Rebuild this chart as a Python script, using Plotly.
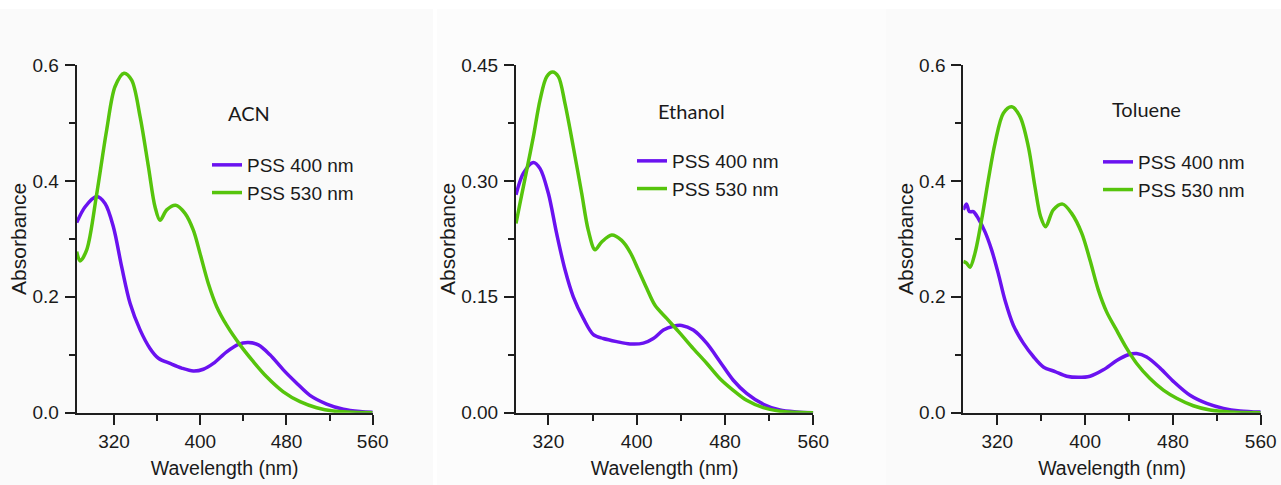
import plotly.graph_objects as go

# ---------------- data ----------------
solvents = ["ACN", "Ethanol", "Toluene"]
series_names = ["PSS 400 nm", "PSS 530 nm"]

acn_400_wl = [285.4, 293.1, 304.0, 311.7, 319.4, 327.1, 334.9, 344.2, 353.4, 361.2, 372.0, 382.8, 393.6,
              402.9, 412.2, 424.5, 435.4, 444.6, 453.9, 464.7, 477.1, 489.5, 501.8, 517.3, 532.8, 548.2, 560.0]
acn_400_abs = [0.328, 0.355, 0.373, 0.361, 0.321, 0.252, 0.189, 0.143, 0.111, 0.094, 0.085, 0.077, 0.072,
               0.075, 0.085, 0.105, 0.118, 0.121, 0.117, 0.100, 0.074, 0.051, 0.030, 0.015, 0.006, 0.002, 0.0006]
acn_530_wl = [285.4, 288.5, 294.7, 304.0, 313.2, 321.0, 329.3, 336.4, 344.2, 351.9, 358.1, 362.7, 368.9,
              377.2, 385.9, 393.6, 399.8, 407.5, 415.3, 424.5, 436.9, 449.3, 461.6, 477.1, 492.6, 508.0,
              523.5, 560.0]
acn_530_abs = [0.278, 0.262, 0.281, 0.378, 0.488, 0.563, 0.586, 0.574, 0.511, 0.425, 0.355, 0.332, 0.350,
               0.358, 0.344, 0.315, 0.275, 0.223, 0.183, 0.151, 0.117, 0.088, 0.062, 0.036, 0.019, 0.0086,
               0.003, 0.0]

eth_400_wl = [290.7, 297.4, 306.4, 312.5, 320.0, 327.5, 335.1, 342.6, 351.7, 360.8, 369.8, 381.9, 394.0,
              406.0, 415.1, 424.2, 433.2, 440.8, 451.3, 463.4, 475.5, 487.5, 499.6, 514.7, 529.8, 544.9, 560.0]
eth_400_abs = [0.282, 0.310, 0.324, 0.316, 0.284, 0.232, 0.185, 0.150, 0.122, 0.101, 0.096, 0.092, 0.089,
               0.090, 0.096, 0.107, 0.112, 0.113, 0.107, 0.090, 0.066, 0.042, 0.025, 0.011, 0.0035, 0.001, 0.0]
eth_530_wl = [290.7, 294.3, 300.4, 306.4, 312.5, 318.5, 323.9, 329.1, 335.1, 342.6, 350.2, 356.2, 362.3,
              368.3, 377.4, 386.4, 394.0, 401.5, 409.1, 416.6, 427.2, 439.2, 451.3, 463.4, 475.5, 487.5,
              499.6, 514.7, 529.8, 560.0]
eth_530_abs = [0.245, 0.271, 0.314, 0.357, 0.405, 0.435, 0.441, 0.435, 0.400, 0.344, 0.284, 0.236, 0.211,
               0.221, 0.230, 0.223, 0.208, 0.185, 0.161, 0.139, 0.122, 0.103, 0.083, 0.064, 0.044, 0.029,
               0.016, 0.0065, 0.002, 0.0]

tol_400_wl = [289.0, 292.0, 294.5, 298.1, 302.7, 308.8, 314.8, 320.9, 327.0, 334.6, 343.7, 352.8, 361.9,
              372.6, 383.2, 393.8, 404.5, 416.6, 428.8, 439.4, 447.0, 456.1, 468.3, 480.4, 495.6, 510.8,
              526.0, 541.2, 560.0]
tol_400_abs = [0.350, 0.360, 0.347, 0.347, 0.335, 0.312, 0.281, 0.240, 0.194, 0.151, 0.120, 0.097, 0.079,
               0.071, 0.063, 0.061, 0.063, 0.074, 0.090, 0.100, 0.102, 0.096, 0.077, 0.054, 0.030, 0.016,
               0.0075, 0.003, 0.001]
tol_530_wl = [289.0, 292.0, 295.1, 299.6, 305.7, 311.8, 317.9, 325.5, 333.1, 340.7, 348.3, 354.3, 359.5,
              364.0, 371.0, 379.5, 387.7, 396.9, 404.5, 412.0, 419.6, 428.8, 437.9, 447.0, 459.1, 471.3,
              483.4, 498.6, 513.8, 532.0, 560.0]
tol_530_abs = [0.261, 0.258, 0.251, 0.275, 0.333, 0.402, 0.465, 0.517, 0.528, 0.511, 0.459, 0.390, 0.338,
               0.321, 0.350, 0.360, 0.344, 0.310, 0.263, 0.212, 0.174, 0.142, 0.111, 0.085, 0.059, 0.039,
               0.025, 0.012, 0.0046, 0.0012, 0.0]

x_ranges = [[285.4, 560.0], [290.7, 560.0], [289.0, 560.0]]
y_ranges = [[0, 0.6], [0, 0.45], [0, 0.6]]
y_major = [0.2, 0.15, 0.2]
y_minor = [0.1, 0.075, 0.1]
y_formats = [".1f", ".2f", ".1f"]
x_major_ticks = [320, 400, 480, 560]
x_minor_ticks = [360, 440, 520]

# ---------------- layout geometry (pixels) ----------------
W, H = 1281, 485
plot_left = [76.7, 516.0, 963.3]
plot_right = [372.7, 813.3, 1260.7]
plot_top, plot_bottom = 65.0, 412.7
legend_left = [207.0, 632.0, 1098.0]
legend_top = [146.0, 142.0, 143.0]
title_pos = [(227, 113), (657, 111), (1111, 109)]
bg_panels = [(0, 433, "#fafafa"), (437, 886, "#fcfcfc"), (886, 1281, "#fafafa")]

PURPLE = "#6a12f0"
GREEN = "#56c40c"
AXIS = "#1e1e1e"
FONT = "Liberation Sans, Arial, sans-serif"

data = [
    (acn_400_wl, acn_400_abs, acn_530_wl, acn_530_abs),
    (eth_400_wl, eth_400_abs, eth_530_wl, eth_530_abs),
    (tol_400_wl, tol_400_abs, tol_530_wl, tol_530_abs),
]

fig = go.Figure()
for i, (w4, a4, w5, a5) in enumerate(data):
    sfx = "" if i == 0 else str(i + 1)
    leg = "legend" if i == 0 else f"legend{i + 1}"
    fig.add_trace(go.Scatter(x=w4, y=a4, mode="lines", name=series_names[0],
                             line=dict(color=PURPLE, width=3.5, shape="spline", smoothing=0.9),
                             xaxis="x" + sfx, yaxis="y" + sfx, legend=leg))
    fig.add_trace(go.Scatter(x=w5, y=a5, mode="lines", name=series_names[1],
                             line=dict(color=GREEN, width=3.5, shape="spline", smoothing=0.9),
                             xaxis="x" + sfx, yaxis="y" + sfx, legend=leg))

layout = dict(
    width=W, height=H,
    margin=dict(l=0, r=0, t=0, b=0, pad=0, autoexpand=False),
    paper_bgcolor="white",
    plot_bgcolor="rgba(0,0,0,0)",
    font=dict(family=FONT, color="#1a1a1a", size=19),
    shapes=[], annotations=[],
)

for i in range(3):
    sfx = "" if i == 0 else str(i + 1)
    xd = [plot_left[i] / W, plot_right[i] / W]
    yd = [1 - plot_bottom / H, 1 - plot_top / H]
    layout["xaxis" + sfx] = dict(
        domain=xd, range=x_ranges[i], anchor="y" + sfx, automargin=False,
        showline=True, linecolor=AXIS, linewidth=2, showgrid=False, zeroline=False,
        ticks="outside", ticklen=10, tickwidth=2, tickcolor=AXIS,
        tickmode="array", tickvals=x_major_ticks,
        minor=dict(tickmode="array", tickvals=x_minor_ticks, ticks="outside", ticklen=6,
                   tickwidth=2, tickcolor=AXIS, showgrid=False),
        tickfont=dict(size=19), ticklabelstandoff=0,
        title=dict(text="Wavelength (nm)", font=dict(size=19.5), standoff=11),
        fixedrange=True,
    )
    layout["yaxis" + sfx] = dict(
        domain=yd, range=[y_ranges[i][0], y_ranges[i][1] * 1.0002], anchor="x" + sfx,
        automargin=False,
        showline=True, linecolor=AXIS, linewidth=2, showgrid=False, zeroline=False,
        ticks="outside", ticklen=10, tickwidth=2, tickcolor=AXIS,
        tick0=0, dtick=y_major[i], tickformat=y_formats[i],
        minor=dict(tick0=0, dtick=y_minor[i], ticks="outside", ticklen=6,
                   tickwidth=2, tickcolor=AXIS, showgrid=False),
        tickfont=dict(size=19), ticklabelstandoff=2,
        title=dict(text="Absorbance", font=dict(size=21), standoff=0),
        fixedrange=True,
    )
    leg = "legend" if i == 0 else f"legend{i + 1}"
    layout[leg] = dict(
        x=legend_left[i] / W, y=1 - legend_top[i] / H, xanchor="left", yanchor="top",
        bgcolor="rgba(0,0,0,0)", borderwidth=0, font=dict(size=19, family=FONT),
        itemwidth=30, tracegroupgap=0,
    )
    tx, ty = title_pos[i]
    layout["annotations"].append(dict(
        text=solvents[i], x=tx / W, y=1 - ty / H, xref="paper", yref="paper",
        xanchor="left", yanchor="middle", showarrow=False, borderpad=0,
        font=dict(family="Lato, Open Sans, sans-serif", size=20, color="#1a1a1a"),
    ))
    x0, x1, col = bg_panels[i]
    layout["shapes"].append(dict(
        type="rect", xref="paper", yref="paper", x0=x0 / W, x1=x1 / W, y0=0, y1=1 - 9 / H,
        fillcolor=col, line=dict(width=0), layer="below",
    ))

fig.update_layout(**layout)
fig.write_html("out.html",
               config={"displayModeBar": False},
               post_script="document.body.style.margin='0';document.body.style.padding='0';")
